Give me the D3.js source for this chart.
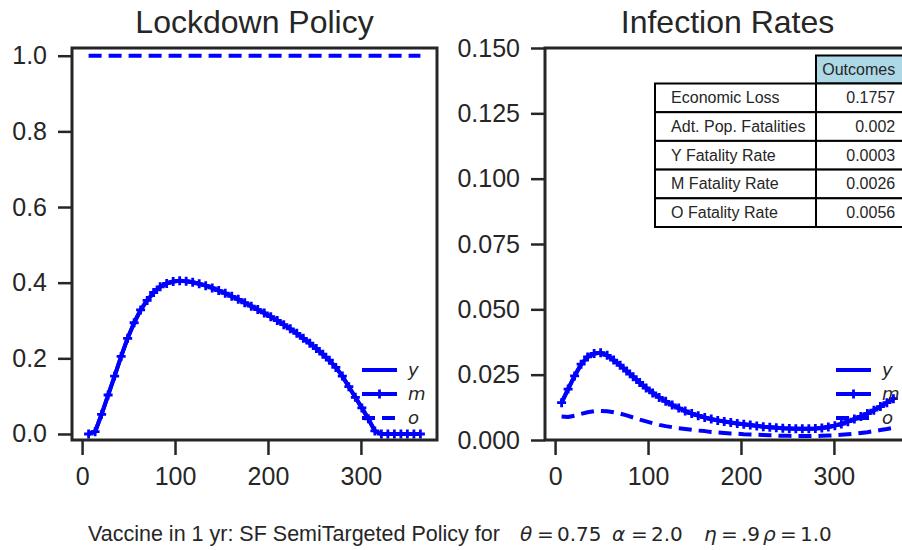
<!DOCTYPE html>
<html>
<head>
<meta charset="utf-8">
<script src="https://cdn.jsdelivr.net/npm/d3@7/dist/d3.min.js"></script>
<style>
  body { margin: 0; background: #fff; }
  svg { display: block; font-family: "Liberation Sans", Arial, sans-serif; }
</style>
</head>
<body>
<svg id="chart" width="902" height="550"></svg>
<script>
// weekly sample days
const days = [7, 14, 21, 28, 35, 42, 49, 56, 63, 70, 77, 84, 91, 98, 105, 112, 119, 126, 133, 140,
  147, 154, 161, 168, 175, 182, 189, 196, 203, 210, 217, 224, 231, 238, 245, 252, 259, 266, 273, 280,
  287, 294, 301, 308, 315, 322, 329, 336, 343, 350, 357, 364]

// lockdown policy per group
const lockY = [0.000, 0.006, 0.052, 0.103, 0.153, 0.205, 0.253, 0.294, 0.328, 0.353, 0.374, 0.389, 0.398, 0.403,
  0.405, 0.404, 0.401, 0.397, 0.392, 0.386, 0.379, 0.372, 0.364, 0.356, 0.347, 0.338, 0.329, 0.320, 0.310, 0.300,
  0.289, 0.278, 0.266, 0.253, 0.240, 0.226, 0.211, 0.195, 0.176, 0.153, 0.125, 0.097, 0.069, 0.040, 0.008, 0.000,
  0.000, 0.000, 0.000, 0.000, 0.000, 0.000]
const lockM = lockY.slice()
const lockO = [1, 1, 1, 1, 1, 1, 1, 1, 1, 1, 1, 1, 1, 1, 1, 1, 1, 1, 1, 1, 1, 1, 1, 1, 1, 1,
  1, 1, 1, 1, 1, 1, 1, 1, 1, 1, 1, 1, 1, 1, 1, 1, 1, 1, 1, 1, 1, 1, 1, 1, 1, 1]

// infection rates per group
const infM = [0.0143, 0.0195, 0.0245, 0.0290, 0.0318, 0.0331, 0.0334, 0.0324, 0.0306, 0.0286, 0.0264, 0.0242,
  0.0220, 0.0199, 0.0180, 0.0163, 0.0148, 0.0134, 0.0122, 0.0111, 0.0101, 0.0093, 0.0086, 0.0080, 0.0075, 0.0071,
  0.0067, 0.0063, 0.0060, 0.0057, 0.0054, 0.0051, 0.0049, 0.0047, 0.0045, 0.0044, 0.0043, 0.0043, 0.0043, 0.0044,
  0.0046, 0.0050, 0.0055, 0.0061, 0.0070, 0.0080, 0.0090, 0.0101, 0.0114, 0.0128, 0.0143, 0.0158]
const infY = infM.slice()
const infO = [0.0090, 0.0088, 0.0093, 0.0100, 0.0106, 0.0110, 0.0111, 0.0110, 0.0106, 0.0101, 0.0094, 0.0086,
  0.0078, 0.0071, 0.0064, 0.0058, 0.0053, 0.0049, 0.0045, 0.0042, 0.0039, 0.0036, 0.0034, 0.0031, 0.0029, 0.0027,
  0.0025, 0.0024, 0.0022, 0.0021, 0.0020, 0.0019, 0.0018, 0.0017, 0.0016, 0.0016, 0.0015, 0.0015, 0.0015, 0.0015,
  0.0016, 0.0017, 0.0018, 0.0020, 0.0022, 0.0024, 0.0027, 0.0030, 0.0034, 0.0038, 0.0042, 0.0047]

const xTicks = [0, 100, 200, 300]
const lockTicks = [0, 0.2, 0.4, 0.6, 0.8, 1.0]
const infTicks = [0, 0.025, 0.05, 0.075, 0.1, 0.125, 0.15]

const tableRows = ["Economic Loss", "Adt. Pop. Fatalities", "Y Fatality Rate", "M Fatality Rate", "O Fatality Rate"]
const tableVals = ["0.1757", "0.002", "0.0003", "0.0026", "0.0056"]
const tableHeader = "Outcomes"

const legendNames = ["y", "m", "o"]

var ink = "#262626"
var blue = "#0000ff"
var svg = d3.select("#chart")

var top_ = 48, bottom = 440, panelW = 365

function drawPanel(left, yDomain, yTicks, fmt, series, title) {
    var x = d3.scaleLinear().domain([-10.85, 381.85]).range([left, left + panelW])
    var y = d3.scaleLinear().domain(yDomain).range([bottom, top_])

    var g = svg.append("g")

    // axes
    var yAx = g.append("g")
        .attr("transform", `translate(${left},0)`)
        .call(d3.axisLeft(y).tickValues(yTicks).tickFormat(d3.format(fmt)).tickSize(14).tickPadding(11))
    var xAx = g.append("g")
        .attr("transform", `translate(0,${bottom})`)
        .call(d3.axisBottom(x).tickValues(xTicks).tickFormat(d3.format("d")).tickSize(15).tickPadding(12))
    for (var ax of [yAx, xAx]) {
        ax.select(".domain").remove()
        ax.selectAll("line").attr("stroke", ink).attr("stroke-width", 2.5)
        ax.selectAll("text").attr("fill", ink).style("font-size", "25px")
    }

    var line = d3.line().x((d, i) => x(days[i])).y(d => y(d))

    series.forEach(s => {
        g.append("path")
            .datum(s.values)
            .attr("d", line)
            .attr("fill", "none")
            .attr("stroke", blue)
            .attr("stroke-width", 4)
            .attr("stroke-linejoin", "round")
            .attr("stroke-dasharray", s.dash ? "13,7" : null)
        if (s.marker) {
            g.append("path")
                .attr("d", s.values.map((v, i) => {
                    var px = x(days[i]), py = y(v)
                    return `M${px - 4.5},${py}h9M${px},${py - 4.5}v9`
                }).join(""))
                .attr("stroke", blue)
                .attr("stroke-width", 2.8)
                .attr("fill", "none")
        }
    })

    // spines
    g.append("rect")
        .attr("x", left).attr("y", top_)
        .attr("width", panelW).attr("height", bottom - top_)
        .attr("fill", "none").attr("stroke", ink).attr("stroke-width", 3)

    g.append("text")
        .attr("x", left + panelW / 2).attr("y", 33)
        .attr("text-anchor", "middle")
        .attr("fill", ink)
        .style("font-size", "32px")
        .text(title)

    return g
}

function drawLegend(g, lx) {
    var ys = [370, 394, 418]
    legendNames.forEach((name, i) => {
        g.append("line")
            .attr("x1", lx).attr("x2", lx + 35)
            .attr("y1", ys[i]).attr("y2", ys[i])
            .attr("stroke", blue).attr("stroke-width", 4)
            .attr("stroke-dasharray", name == "o" ? "13,7" : null)
        if (name == "m") {
            g.append("path")
                .attr("d", `M${lx + 13},${ys[i]}h9M${lx + 17.5},${ys[i] - 4.5}v9`)
                .attr("stroke", blue).attr("stroke-width", 2.8)
        }
        g.append("text")
            .attr("x", lx + 46).attr("y", ys[i] + 6)
            .attr("fill", ink)
            .style("font-family", "'DejaVu Sans', sans-serif")
            .style("font-style", "italic")
            .style("font-size", "18px")
            .text(name)
    })
}

var gL = drawPanel(72, [-0.0159, 1.0204], lockTicks, ".1f",
    [{values: lockY}, {values: lockM, marker: true}, {values: lockO, dash: true}], "Lockdown Policy")
drawLegend(gL, 362)

var gR = drawPanel(545, [0, 0.15], infTicks, ".3f",
    [{values: infY}, {values: infM, marker: true}, {values: infO, dash: true}], "Infection Rates")

// outcomes table
var tb = gR.append("g")
var c0 = 655, c1 = 816, c2 = 904, rowH = 28.7, hTop = 55.5, rTop = 83.5
tb.append("rect")
    .attr("x", c1).attr("y", hTop).attr("width", c2 - c1).attr("height", rTop - hTop)
    .attr("fill", "#add8e6").attr("stroke", "#000").attr("stroke-width", 2)
tb.append("text")
    .attr("x", c2 - 0.1 * (c2 - c1)).attr("y", (hTop + rTop) / 2 + 5.5)
    .attr("text-anchor", "end").attr("fill", ink).style("font-size", "16px")
    .text(tableHeader)
tableRows.forEach((r, i) => {
    var yy = rTop + i * rowH
    tb.append("rect")
        .attr("x", c0).attr("y", yy).attr("width", c1 - c0).attr("height", rowH)
        .attr("fill", "#fff").attr("stroke", "#000").attr("stroke-width", 2)
    tb.append("rect")
        .attr("x", c1).attr("y", yy).attr("width", c2 - c1).attr("height", rowH)
        .attr("fill", "#fff").attr("stroke", "#000").attr("stroke-width", 2)
    tb.append("text")
        .attr("x", c0 + 0.1 * (c1 - c0)).attr("y", yy + rowH / 2 + 5.5)
        .attr("fill", ink).style("font-size", "16px")
        .text(r)
    tb.append("text")
        .attr("x", c2 - 0.1 * (c2 - c1)).attr("y", yy + rowH / 2 + 5.5)
        .attr("text-anchor", "end").attr("fill", ink).style("font-size", "16px")
        .text(tableVals[i])
})
drawLegend(gR, 836)

// caption
var cap = svg.append("text")
    .attr("y", 541)
    .attr("fill", ink)
    .style("font-size", "21.5px")
cap.append("tspan").attr("x", 88).text("Vaccine in 1 yr: SF SemiTargeted Policy for")
var mathParts = [
    {x: 520, t: "θ", it: true}, {x: 537, t: "="}, {x: 557, t: "0.75"},
    {x: 612, t: "α", it: true}, {x: 631, t: "="}, {x: 651, t: "2.0"},
    {x: 704, t: "η", it: true}, {x: 721, t: "="}, {x: 741, t: ".9"},
    {x: 763, t: "ρ", it: true}, {x: 780, t: "="}, {x: 800, t: "1.0"}
]
mathParts.forEach(p => {
    cap.append("tspan")
        .attr("x", p.x)
        .style("font-family", "'DejaVu Sans', sans-serif")
        .style("font-style", p.it ? "italic" : "normal")
        .style("font-size", "20px")
        .text(p.t)
})
</script>
</body>
</html>
